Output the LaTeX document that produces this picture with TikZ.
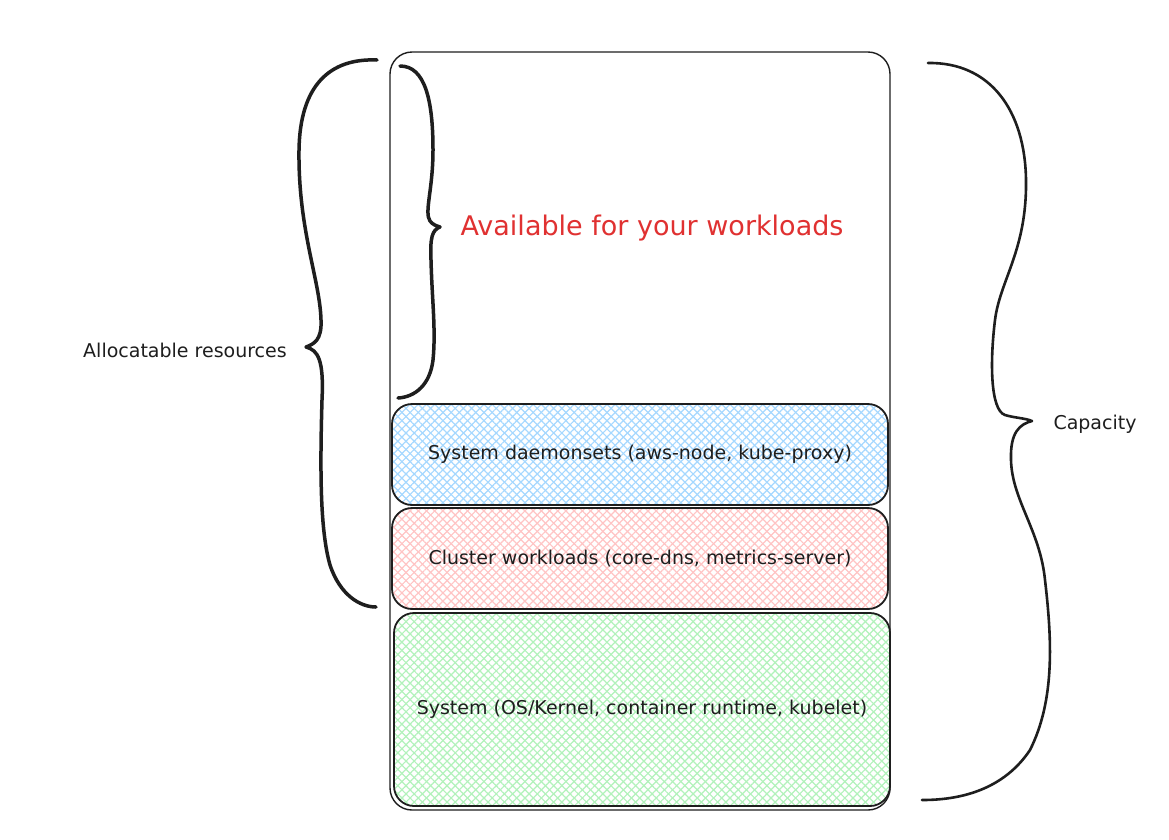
\documentclass[tikz,border=0pt]{standalone}
\usepackage{fontspec}
\setmainfont{DejaVu Sans}
\usetikzlibrary{patterns.meta}
\definecolor{ink}{HTML}{1E1E1E}
\definecolor{redtxt}{HTML}{E03131}
\definecolor{hblue}{HTML}{A5D8FF}
\definecolor{hpink}{HTML}{FFC4C4}
\definecolor{hgreen}{HTML}{B2F2BB}
\tikzset{
  layerbox/.style={draw=ink, line width=1.8pt, rounded corners=20pt, inner sep=0pt,
    font=\fontsize{19}{23}\selectfont, text=ink},
  hatch/.style={
    preaction={pattern={Lines[angle=45,distance=5.8pt,line width=1.2pt]}, pattern color=#1},
    preaction={pattern={Lines[angle=-45,distance=5.8pt,line width=1.2pt]}, pattern color=#1}},
  outerbox/.style={draw=ink, line width=1.4pt, rounded corners=22pt, inner sep=0pt},
  brace/.style={draw=ink, line width=3.5pt, line cap=round, line join=round},
  label/.style={font=\fontsize{19}{23}\selectfont, text=ink, inner sep=0pt}
}
\begin{document}
\begin{tikzpicture}[x=1pt,y=-1pt]
\useasboundingbox (0,0) rectangle (1169,839);
\fill[white] (0,0) rectangle (1169,839);

\node[outerbox, minimum width=500pt, minimum height=758pt] (frame) at (640,431) {};

\node[layerbox, hatch=hblue, minimum width=496pt, minimum height=101pt] (daemons) at (640,454.5)
  {System daemonsets (aws-node, kube-proxy)};
\node[layerbox, hatch=hpink, minimum width=496pt, minimum height=101pt] (cluster) at (640,558.5)
  {Cluster workloads (core-dns, metrics-server)};
\node[layerbox, hatch=hgreen, minimum width=496pt, minimum height=193pt] (system) at (642,709.5)
  {System (OS/Kernel, container runtime, kubelet)};

\node[font=\fontsize{27}{32}\selectfont, text=redtxt, inner sep=0pt] (avail) at (652,228)
  {Available for your workloads};

\node[label] (alloc) at (185,350) {Allocatable resources};
\node[label] (cap) at (1095,424) {Capacity};

% inner brace
\draw[brace] (400,66) .. controls (425,66) and (433,100) .. (433,150)
  .. controls (433,190) and (424,212) .. (430,221)
  .. controls (433,225) and (437,226) .. (440,227)
  .. controls (432,230) and (430,238) .. (431,260)
  .. controls (432,300) and (436,330) .. (433,360)
  .. controls (430,385) and (415,397) .. (398,398);

% left brace
\draw[brace] (377,60) .. controls (330,58) and (300,85) .. (299,150)
  .. controls (298,230) and (320,280) .. (321,320)
  .. controls (322,340) and (314,344) .. (306,347)
  .. controls (318,350) and (324,360) .. (322,400)
  .. controls (320,470) and (320,530) .. (330,565)
  .. controls (340,595) and (360,607) .. (376,607);

% right brace
\draw[brace, line width=2.6pt] (928,63) .. controls (990,62) and (1025,110) .. (1026,180)
  .. controls (1027,250) and (1000,280) .. (995,320)
  .. controls (990,360) and (990,410) .. (1005,415)
  .. controls (1015,418) and (1025,418) .. (1032,421)
  .. controls (1020,424) and (1010,432) .. (1011,460)
  .. controls (1012,500) and (1040,530) .. (1045,580)
  .. controls (1052,640) and (1055,700) .. (1030,750)
  .. controls (1000,795) and (950,800) .. (922,800);
\end{tikzpicture}
\end{document}
